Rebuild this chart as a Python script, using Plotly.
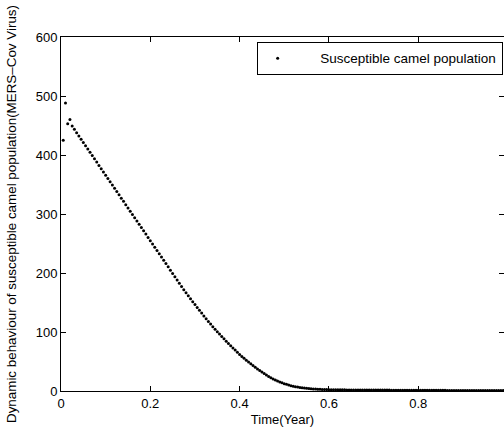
import plotly.graph_objects as go

time_year = [
    0.005, 0.010, 0.015, 0.020, 0.025, 0.030, 0.035, 0.040, 0.045, 0.050,
    0.055, 0.060, 0.065, 0.070, 0.075, 0.080, 0.085, 0.090, 0.095, 0.100,
    0.105, 0.110, 0.115, 0.120, 0.125, 0.130, 0.135, 0.140, 0.145, 0.150,
    0.155, 0.160, 0.165, 0.170, 0.175, 0.180, 0.185, 0.190, 0.195, 0.200,
    0.205, 0.210, 0.215, 0.220, 0.225, 0.230, 0.235, 0.240, 0.245, 0.250,
    0.255, 0.260, 0.265, 0.270, 0.275, 0.280, 0.285, 0.290, 0.295, 0.300,
    0.305, 0.310, 0.315, 0.320, 0.325, 0.330, 0.335, 0.340, 0.345, 0.350,
    0.355, 0.360, 0.365, 0.370, 0.375, 0.380, 0.385, 0.390, 0.395, 0.400,
    0.405, 0.410, 0.415, 0.420, 0.425, 0.430, 0.435, 0.440, 0.445, 0.450,
    0.455, 0.460, 0.465, 0.470, 0.475, 0.480, 0.485, 0.490, 0.495, 0.500,
    0.505, 0.510, 0.515, 0.520, 0.525, 0.530, 0.535, 0.540, 0.545, 0.550,
    0.555, 0.560, 0.565, 0.570, 0.575, 0.580, 0.585, 0.590, 0.595, 0.600,
    0.605, 0.610, 0.615, 0.620, 0.625, 0.630, 0.635, 0.640, 0.645, 0.650,
    0.655, 0.660, 0.665, 0.670, 0.675, 0.680, 0.685, 0.690, 0.695, 0.700,
    0.705, 0.710, 0.715, 0.720, 0.725, 0.730, 0.735, 0.740, 0.745, 0.750,
    0.755, 0.760, 0.765, 0.770, 0.775, 0.780, 0.785, 0.790, 0.795, 0.800,
    0.805, 0.810, 0.815, 0.820, 0.825, 0.830, 0.835, 0.840, 0.845, 0.850,
    0.855, 0.860, 0.865, 0.870, 0.875, 0.880, 0.885, 0.890, 0.895, 0.900,
    0.905, 0.910, 0.915, 0.920, 0.925, 0.930, 0.935, 0.940, 0.945, 0.950,
    0.955, 0.960, 0.965, 0.970, 0.975, 0.980, 0.985, 0.990, 0.995, 1.000,
]

susceptible_camels = [
    425, 488, 453, 460, 449, 443.5, 437.9, 432.4, 426.8, 421.3,
    415.7, 410.2, 404.6, 399.1, 393.5, 388.0, 382.4, 376.9, 371.3, 365.8,
    360.2, 354.7, 349.1, 343.6, 338.0, 332.5, 326.9, 321.4, 315.8, 310.3,
    304.7, 299.2, 293.6, 288.1, 282.5, 277.0, 271.4, 265.9, 260.3, 254.8,
    249.2, 243.7, 238.1, 232.6, 227.0, 221.5, 215.9, 210.4, 204.8, 199.3,
    193.7, 188.2, 182.6, 177.1, 171.5, 166.4, 161.4, 156.4, 151.4, 146.5,
    141.6, 136.8, 132.0, 127.2, 122.5, 117.9, 113.4, 109.0, 104.7, 100.5,
    96.4, 92.4, 88.4, 84.4, 80.5, 76.7, 73.0, 69.3, 65.6, 62.0,
    58.6, 55.3, 52.1, 49.0, 46.0, 43.1, 40.3, 37.5, 34.7, 32.0,
    29.5, 27.0, 24.7, 22.5, 20.5, 18.6, 16.9, 15.3, 13.8, 12.5,
    11.3, 10.2, 9.1, 8.2, 7.3, 6.6, 6.0, 5.4, 4.9, 4.5,
    4.2, 3.9, 3.6, 3.3, 3.1, 2.9, 2.7, 2.5, 2.4, 2.3,
    2.2, 2.2, 2.1, 2.1, 2.0, 2.0, 2.0, 1.9, 1.9, 1.9,
    1.8, 1.8, 1.8, 1.8, 1.7, 1.7, 1.7, 1.7, 1.6, 1.6,
    1.6, 1.6, 1.5, 1.5, 1.5, 1.5, 1.5, 1.4, 1.4, 1.4,
    1.4, 1.4, 1.3, 1.3, 1.3, 1.3, 1.3, 1.3, 1.2, 1.2,
    1.2, 1.2, 1.2, 1.2, 1.2, 1.1, 1.1, 1.1, 1.1, 1.1,
    1.1, 1.1, 1.0, 1.0, 1.0, 1.0, 1.0, 1.0, 1.0, 1.0,
    1.0, 0.9, 0.9, 0.9, 0.9, 0.9, 0.9, 0.9, 0.9, 0.9,
    0.9, 0.9, 0.8, 0.8, 0.8, 0.8, 0.8, 0.8, 0.8, 0.8,
]

x_tick_vals = [0, 0.2, 0.4, 0.6, 0.8, 1.0]
x_tick_text = ["0", "0.2", "0.4", "0.6", "0.8", "1"]
y_tick_vals = [0, 100, 200, 300, 400, 500, 600]
y_tick_text = ["0", "100", "200", "300", "400", "500", "600"]

FONT = "Liberation Sans, Arial, Helvetica, sans-serif"

fig = go.Figure()
fig.add_trace(go.Scatter(
    x=time_year, y=susceptible_camels, mode="markers",
    name="\u00a0\u00a0\u00a0\u00a0\u00a0\u00a0Susceptible camel population",
    marker=dict(color="black", size=3, symbol="circle", line=dict(width=0)),
))

axis_common = dict(
    showline=True, linecolor="black", linewidth=1, mirror="ticks",
    ticks="inside", ticklen=5, tickwidth=1, tickcolor="black",
    showgrid=False, zeroline=False,
    tickfont=dict(family=FONT, size=13, color="black"),
)

fig.update_xaxes(
    range=[0, 0.992], tickvals=x_tick_vals, ticktext=x_tick_text,
    title=dict(text="Time(Year)", font=dict(family=FONT, size=13, color="black"), standoff=5),
    **axis_common,
)
fig.update_yaxes(
    range=[0, 600], tickvals=y_tick_vals, ticktext=y_tick_text,
    title=dict(text="Dynamic behaviour of susceptible camel population(MERS–Cov Virus)",
               font=dict(family=FONT, size=13.4, color="black"), standoff=16),
    **axis_common,
)

fig.update_layout(
    width=504, height=434,
    margin=dict(l=61, r=0, t=37, b=43, autoexpand=False),
    plot_bgcolor="white", paper_bgcolor="white",
    font=dict(family=FONT, size=13, color="black"),
    showlegend=True,
    legend=dict(
        x=0.997, y=0.986, xanchor="right", yanchor="top",
        bgcolor="white", bordercolor="black", borderwidth=1,
        font=dict(family=FONT, size=13.5, color="black"),
    ),
)

fig.write_html(
    "out.html",
    config={"displayModeBar": False},
    post_script="document.body.style.margin='0px';document.body.style.padding='0px';",
)
